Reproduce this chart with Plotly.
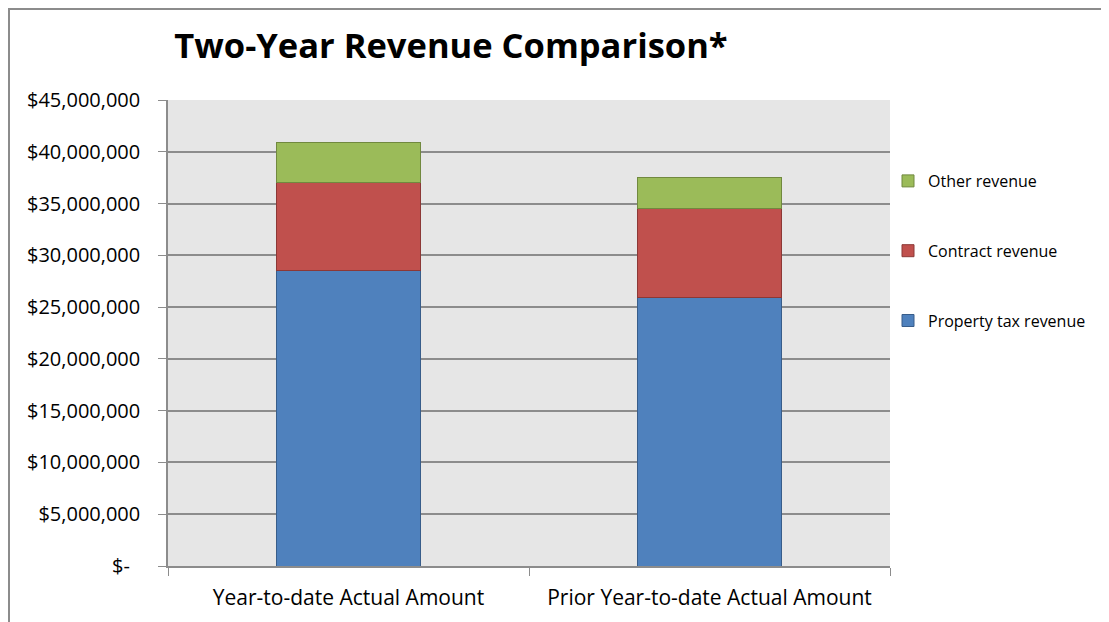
import plotly.graph_objects as go

categories = ["Year-to-date Actual Amount", "Prior Year-to-date Actual Amount"]
property_tax = [28500000, 25900000]
contract = [8570000, 8580000]
other = [3870000, 3030000]

tick_vals = [0, 5000000, 10000000, 15000000, 20000000, 25000000, 30000000, 35000000, 40000000, 45000000]
tick_text = ["$-\u00a0\u00a0", "$5,000,000", "$10,000,000", "$15,000,000", "$20,000,000",
             "$25,000,000", "$30,000,000", "$35,000,000", "$40,000,000", "$45,000,000"]

FONT = "Open Sans"
W, H = 1109, 622
OFF = 8  # page body offset
PX0, PX1, PY0, PY1 = 168, 890, 100, 566  # desired plot area on screen

fig = go.Figure()
fig.add_trace(go.Bar(name="Property tax revenue", x=categories, y=property_tax,
                     marker=dict(color="#4f81bd", line=dict(color="#385d8a", width=1)),
                     legendgroup="p", legendrank=3))
fig.add_trace(go.Bar(name="Contract revenue", x=categories, y=contract,
                     marker=dict(color="#c0504d", line=dict(color="#8c3836", width=1)),
                     legendgroup="c", legendrank=2))
fig.add_trace(go.Bar(name="Other revenue", x=categories, y=other,
                     marker=dict(color="#9bbb59", line=dict(color="#71893f", width=1)),
                     legendgroup="o", legendrank=1))

pw = PX1 - PX0
ph = PY1 - PY0

fig.update_layout(
    width=W, height=H,
    barmode="stack", bargap=0.6,
    paper_bgcolor="white", plot_bgcolor="#e6e6e6",
    margin=dict(l=PX0 - OFF, r=W - (PX1 - OFF), t=PY0 - OFF, b=H - (PY1 - OFF)),
    font=dict(family=FONT, color="black"),
    title=dict(text="<b>Two-Year Revenue Comparison*</b>", font=dict(family=FONT, size=34.5, color="black"),
               xref="container", x=(451 - OFF) / W, xanchor="center",
               yref="container", y=1 - (46 - OFF) / H, yanchor="middle"),
    legend=dict(traceorder="grouped", x=(888 - PX0) / pw, xanchor="left",
                y=(PY1 - 164) / ph, yanchor="top",
                tracegroupgap=46, font=dict(size=16, family=FONT), itemwidth=30,
                bgcolor="rgba(0,0,0,0)"),
    xaxis=dict(showline=True, linecolor="#8c8c8c", linewidth=1.5, ticks="outside",
               tickson="boundaries", ticklen=8, tickcolor="#8c8c8c",
               tickfont=dict(size=21, family=FONT), ticklabelstandoff=12),
    yaxis=dict(range=[0, 45000000], tickvals=tick_vals, ticktext=tick_text,
               showline=True, linecolor="#8c8c8c", linewidth=1.5,
               showgrid=True, gridcolor="#8c8c8c", gridwidth=1.5,
               ticks="outside", ticklen=8, tickcolor="#8c8c8c",
               tickfont=dict(size=20, family=FONT), ticklabelstandoff=14,
               zeroline=False),
    shapes=[dict(type="rect", xref="paper", yref="paper",
                 x0=(OFF + 1 - PX0) / pw, x1=(1125 - PX0) / pw,
                 y0=(PY1 - 640) / ph, y1=(PY1 - (OFF + 1)) / ph,
                 line=dict(color="#8c8c8c", width=2), layer="below")],
)

fig.write_html("out.html")
